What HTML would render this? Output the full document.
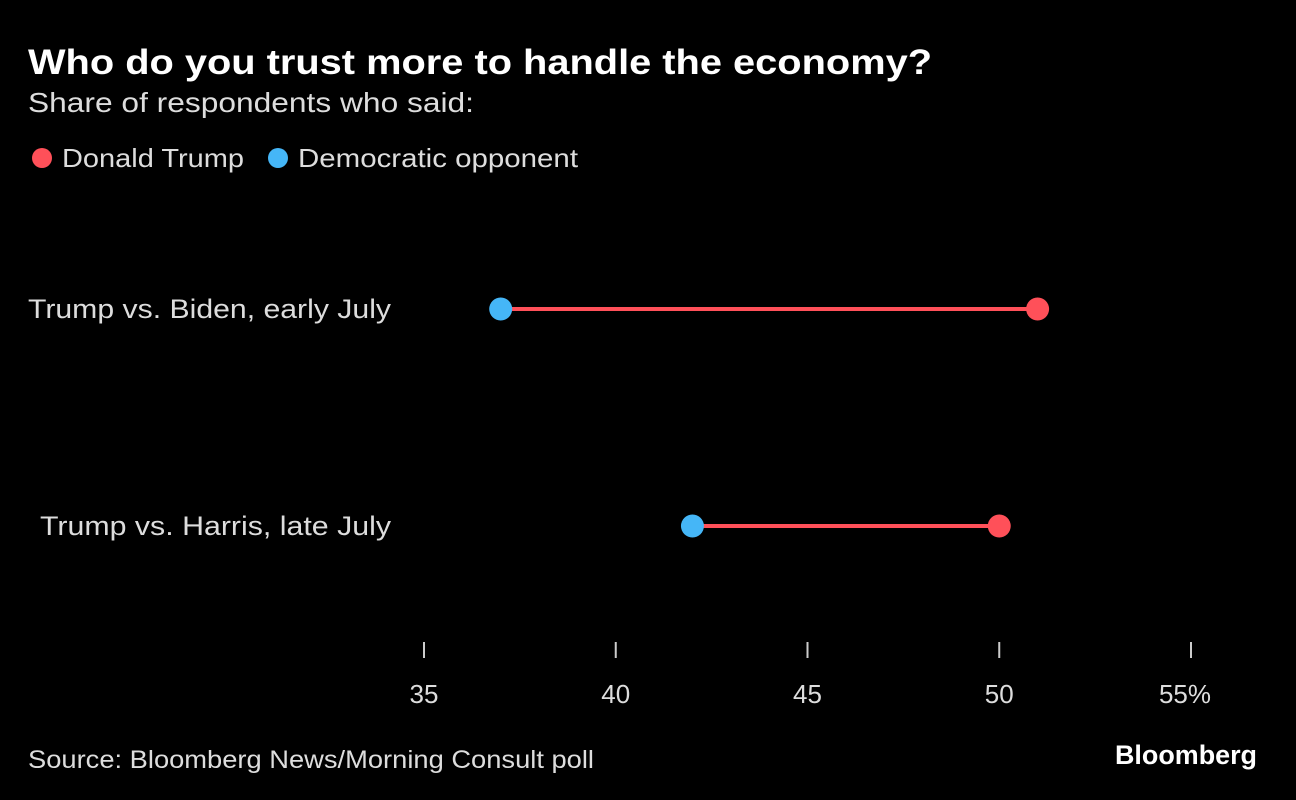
<!DOCTYPE html>
<html><head><meta charset="utf-8">
<style>
html,body{margin:0;padding:0;background:#000;width:1296px;height:800px;overflow:hidden}
text{font-family:"Liberation Sans","DejaVu Sans",sans-serif}
</style></head>
<body>
<svg id="chart" width="1296" height="800">
<text x="28" y="74" fill="#fff" font-size="35" font-weight="bold" textLength="904" lengthAdjust="spacingAndGlyphs">Who do you trust more to handle the economy?</text>
<text x="28" y="112" fill="#ddd" font-size="28" textLength="446" lengthAdjust="spacingAndGlyphs">Share of respondents who said:</text>
<g>
<circle cx="42" cy="158" r="10" fill="#ff5059"/>
<text x="62" y="167" fill="#ddd" font-size="26" textLength="182" lengthAdjust="spacingAndGlyphs">Donald Trump</text>
<circle cx="278" cy="158" r="10" fill="#45b6f7"/>
<text x="298" y="167" fill="#ddd" font-size="26" textLength="280" lengthAdjust="spacingAndGlyphs">Democratic opponent</text>
</g>
<g id="plot"></g>
<text x="28" y="768" fill="#ddd" font-size="25" textLength="566" lengthAdjust="spacingAndGlyphs">Source: Bloomberg News/Morning Consult poll</text>
<text x="1257" y="764" fill="#fff" font-size="27" font-weight="bold" text-anchor="end" textLength="142" lengthAdjust="spacingAndGlyphs">Bloomberg</text>
</svg>
<script>
const categories=["Trump vs. Biden, early July","Trump vs. Harris, late July"];
const trumpValues=[51,50];
const democratValues=[37,42];
const tickValues=[35,40,45,50,55];
const tickLabels=["35","40","45","50","55%"];
const labelWidths=[363,351];
const NS="http://www.w3.org/2000/svg";
const g=document.getElementById('plot');
const x=v=>424+(v-35)*(1191-424)/20;
const y=i=>309+i*217;
function mk(t,a){const e=document.createElementNS(NS,t);for(const k in a)e.setAttribute(k,a[k]);g.appendChild(e);return e;}
categories.forEach((c,i)=>{
 const lab=mk('text',{x:391,y:y(i)+9,fill:'#ddd','font-size':27,'text-anchor':'end',textLength:labelWidths[i],lengthAdjust:'spacingAndGlyphs'});lab.textContent=c;
 
 
 const ln=mk('line',{x1:x(democratValues[i]),x2:x(trumpValues[i]),y1:y(i),y2:y(i),stroke:'#ff5059','stroke-width':4});
 
 
 const d=mk('circle',{cx:x(democratValues[i]),cy:y(i),r:11.5,fill:'#45b6f7'});
 
 
 const t=mk('circle',{cx:x(trumpValues[i]),cy:y(i),r:11.5,fill:'#ff5059'});
 
 
});
tickValues.forEach((v,i)=>{
 const tk=mk('line',{x1:x(v),x2:x(v),y1:642,y2:658,stroke:'#ccc','stroke-width':2});
 
 
 const tl=mk('text',{x:x(v)-(i===tickValues.length-1?6:0),y:703,fill:'#ddd','font-size':26,'text-anchor':'middle'});tl.textContent=tickLabels[i];
 
 
});
</script>
</body></html>
